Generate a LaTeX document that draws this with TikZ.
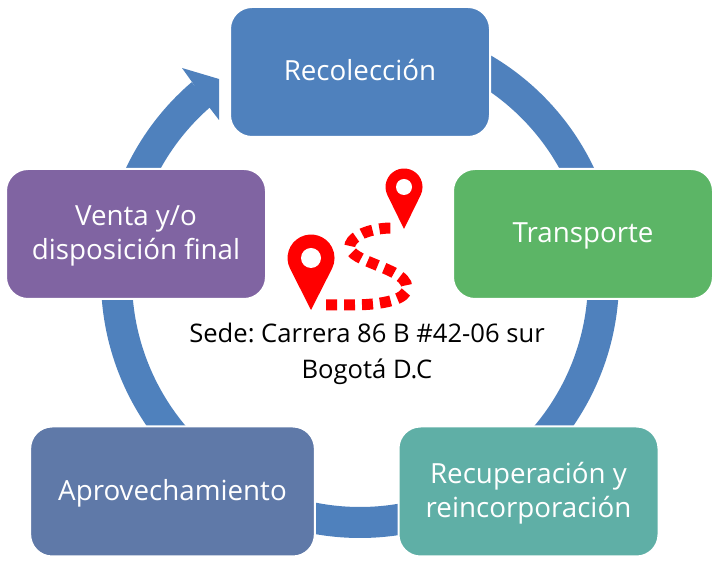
\documentclass[tikz,border=0pt]{standalone}
\usepackage{fontspec}
\setmainfont{Open Sans}
\usepackage{xcolor}
\usetikzlibrary{positioning,calc,backgrounds}
\definecolor{ringblue}{HTML}{4F81BD}
\definecolor{boxgreen}{HTML}{5CB566}
\definecolor{boxteal}{HTML}{5FAFA6}
\definecolor{boxslate}{HTML}{5F79A8}
\definecolor{boxpurple}{HTML}{8064A2}
\tikzset{
    stagebox/.style={draw=white, line width=1.5pt, rounded corners=16.5pt, minimum height=97.5pt, minimum width=195pt,
        inner sep=0pt, align=center, text=white, text height=19.5pt, text depth=6pt, font=\fontsize{20.8}{25.5}\selectfont},
    twolines/.style={text height=39pt, text depth=0pt},
    ringarc/.style={draw=ringblue, line width=23.25pt},
    pinred/.style={fill=red, draw=none},
    pinhole/.style={fill=white, draw=none},
    routedash/.style={draw=red, line width=8.25pt, dash pattern=on 8.25pt off 5.25pt}
}
\frenchspacing
\begin{document}
\begin{tikzpicture}[x=0.75pt, y=0.75pt]
    \useasboundingbox (0,0) rectangle (721,567);
    \coordinate (ringc) at (360,288);

    % Stages
    \node[stagebox, fill=ringblue] (recoleccion) at (360,495) {Recolección};
    \node[stagebox, fill=boxgreen] (transporte) at (583,333) {Transporte};
    \node[stagebox, twolines, fill=boxteal] (recuperacion) at (528.5,75.5) {Recuperación y\\reincorporación};
    \node[stagebox, fill=boxslate, minimum width=213.5pt] (aprovechamiento) at (172.5,75.5) {Aprovechamiento};
    \node[stagebox, twolines, fill=boxpurple] (venta) at (136,333) {Venta y/o\\disposición final};

    % Ring between stages
    \begin{scope}[on background layer]
        \draw[ringarc] (ringc) ++(65:243.5) arc[start angle=65, end angle=15, radius=243.5];
        \draw[ringarc] (ringc) ++(0:243.5) arc[start angle=0, end angle=-50, radius=243.5];
        \draw[ringarc] (ringc) ++(-75:243.5) arc[start angle=-75, end angle=-105, radius=243.5];
        \draw[ringarc] (ringc) ++(-130:243.5) arc[start angle=-130, end angle=-180, radius=243.5];
        \draw[ringarc] (ringc) ++(170:243.5) arc[start angle=170, end angle=130.5, radius=243.5];
        % Arrow head
        \fill[ringblue] (192,485) -- (182,499) -- (219,488) -- (219,447) -- (209,460) -- cycle;
    \end{scope}

    % Route
    \coordinate (routea) at (326,262);
    \coordinate (routeb) at (392,339);
    \draw[routedash] (routea) -- (350,262) .. controls (385,262) and (407,268) .. (407,279)
        .. controls (407,292) and (385,298) .. (367,306) .. controls (352,312) and (346,318) .. (352,326)
        .. controls (358,334) and (375,339) .. (routeb);

    % Pins
    \fill[pinred] (311,257) -- (290.1,298.3) arc[start angle=207, end angle=-27, radius=23.5] -- cycle;
    \fill[pinhole] (311,309) circle[radius=10];
    \fill[pinred] (404,338) -- (387.4,371.9) arc[start angle=206, end angle=-26, radius=18.5] -- cycle;
    \fill[pinhole] (404,380) circle[radius=8];

    % Address
    \node[align=center, font=\fontsize{19.2}{26.5}\selectfont] (sede) at (367,213) {Sede: Carrera 86 B \#42-06 sur\\Bogotá D.C};
\end{tikzpicture}
\end{document}
